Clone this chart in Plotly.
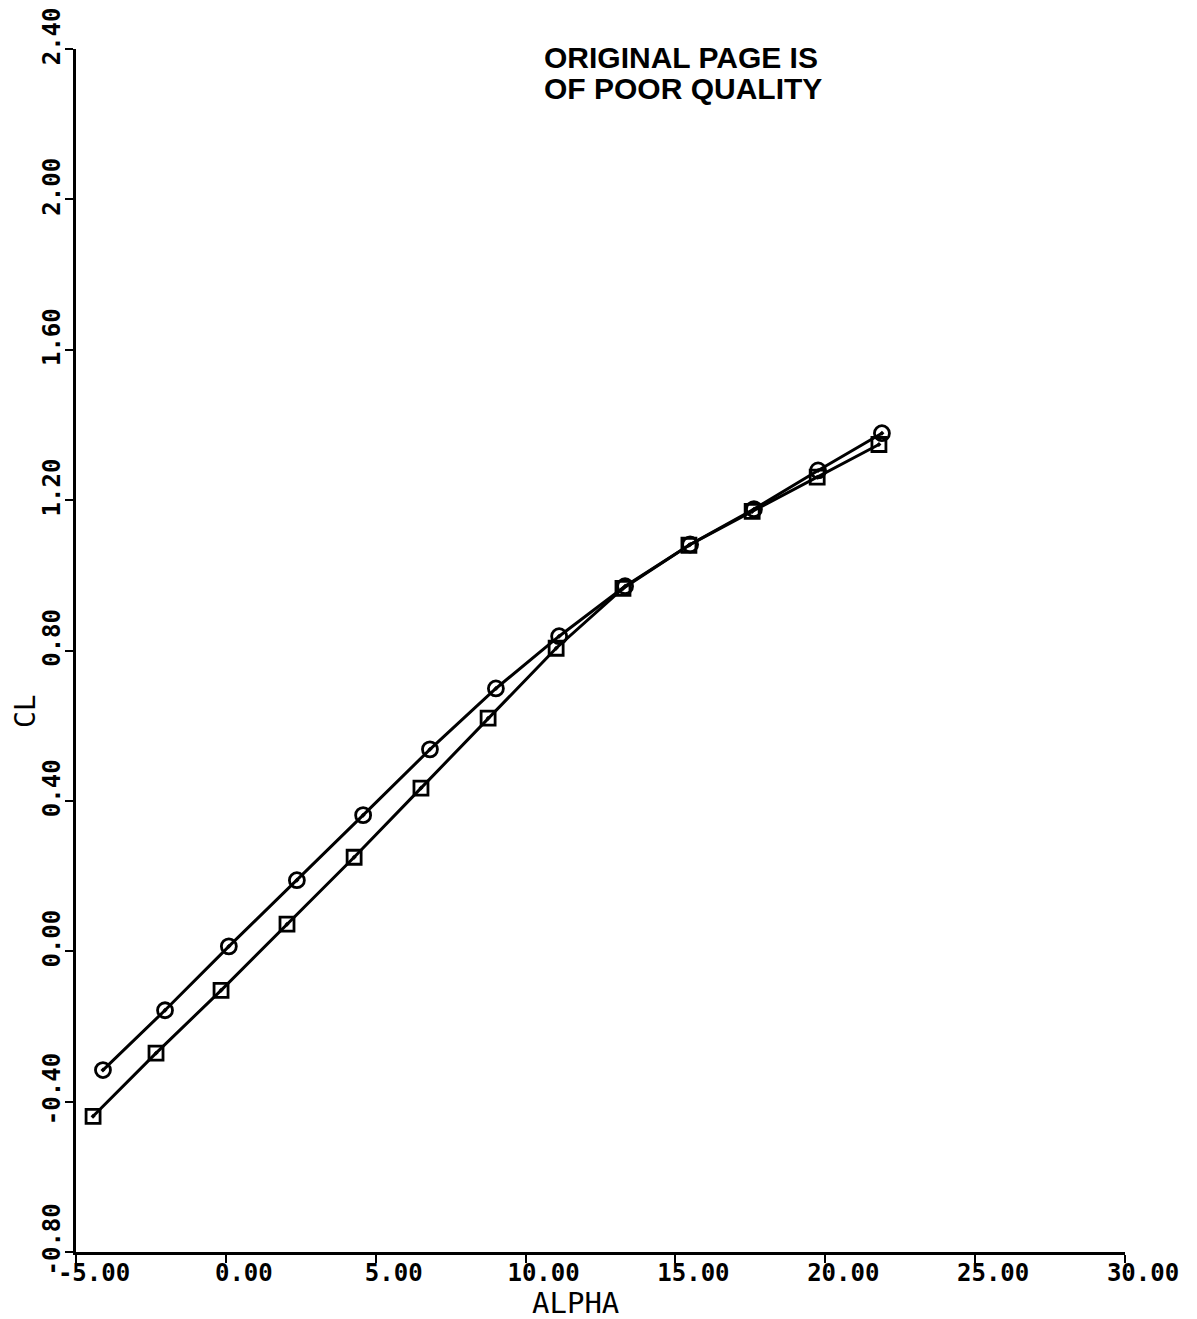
import plotly.graph_objects as go

# -----------------------
# Data
# -----------------------
alpha_circle = [-4.10, -2.03, 0.10, 2.37, 4.58, 6.81, 9.01, 11.12, 13.32, 15.49, 17.62, 19.76, 21.89]
cl_circle = [-0.316, -0.157, 0.013, 0.189, 0.362, 0.537, 0.699, 0.838, 0.971, 1.082, 1.176, 1.279, 1.378]

alpha_square = [-4.43, -2.33, -0.16, 2.04, 4.28, 6.51, 8.75, 11.02, 13.25, 15.45, 17.56, 19.73, 21.79]
cl_square = [-0.439, -0.271, -0.104, 0.072, 0.250, 0.434, 0.620, 0.806, 0.965, 1.080, 1.170, 1.261, 1.348]

x_ticks = [-5, 0, 5, 10, 15, 20, 25, 30]
x_ticktext = ["-5.00", "0.00", "5.00", "10.00", "15.00", "20.00", "25.00", "30.00"]
y_ticks = [2.4, 2.0, 1.6, 1.2, 0.8, 0.4, 0.0, -0.4, -0.8]
y_ticktext = ["2.40", "2.00", "1.60", "1.20", "0.80", "0.40", "0.00", "-0.40", "-0.80"]

stamp_lines = ["ORIGINAL PAGE IS", "OF POOR QUALITY"]

tick_font = dict(family="DejaVu Sans Mono", size=24, color="black", weight="bold")
stamp_font = dict(family="Liberation Sans", size=30, color="black", weight="bold")

fig = go.Figure()
fig.add_trace(go.Scatter(
    x=alpha_circle, y=cl_circle, mode="lines+markers",
    line=dict(color="black", width=3),
    marker=dict(symbol="circle-open-dot", size=15, color="black", line=dict(width=2.8)),
    showlegend=False
))
fig.add_trace(go.Scatter(
    x=alpha_square, y=cl_square, mode="lines+markers",
    line=dict(color="black", width=3),
    marker=dict(symbol="square-open-dot", size=14, color="black", line=dict(width=2.8)),
    showlegend=False
))

# page body has an 8px margin, so the figure is a bit smaller than the window
fig.update_layout(
    width=1189, height=1311,
    margin=dict(l=68, r=72, t=41, b=67),
    paper_bgcolor="white", plot_bgcolor="white",
    xaxis=dict(
        range=[-5, 30], tickvals=x_ticks, ticktext=x_ticktext, automargin=False,
        showgrid=False, zeroline=False, showline=True, linecolor="black", linewidth=2.5,
        ticks="outside", ticklen=8, tickwidth=2, tickcolor="black",
        tickfont=tick_font, ticklabelshift=18, ticklabelstandoff=-11,
        ticklabeloverflow="allow"
    ),
    yaxis=dict(
        range=[-0.8, 2.4], tickvals=y_ticks, ticktext=y_ticktext, automargin=False,
        showgrid=False, zeroline=False, showline=True, linecolor="black", linewidth=2.5,
        ticks="outside", ticklen=8, tickwidth=2, tickcolor="black",
        tickfont=tick_font, tickangle=-90, ticklabelshift=-9, ticklabelstandoff=-4,
        ticklabeloverflow="allow"
    ),
    annotations=[
        dict(text="ALPHA", xref="paper", yref="paper", x=0.4766, y=-0.042,
             xanchor="center", yanchor="middle",
             showarrow=False, font=dict(family="DejaVu Sans Mono", size=29, color="black")),
        dict(text="CL", xref="paper", yref="paper", x=-0.0486, y=0.4497, textangle=-90,
             xanchor="center", yanchor="middle",
             showarrow=False, font=dict(family="DejaVu Sans Mono", size=28, color="black")),
        dict(text=stamp_lines[0], xref="paper", yref="paper", x=0.4445, y=0.9932,
             xanchor="left", yanchor="middle", showarrow=False, font=stamp_font),
        dict(text=stamp_lines[1], xref="paper", yref="paper", x=0.4445, y=0.9670,
             xanchor="left", yanchor="middle", showarrow=False, font=stamp_font),
    ],
)

fig.write_html("out.html")
